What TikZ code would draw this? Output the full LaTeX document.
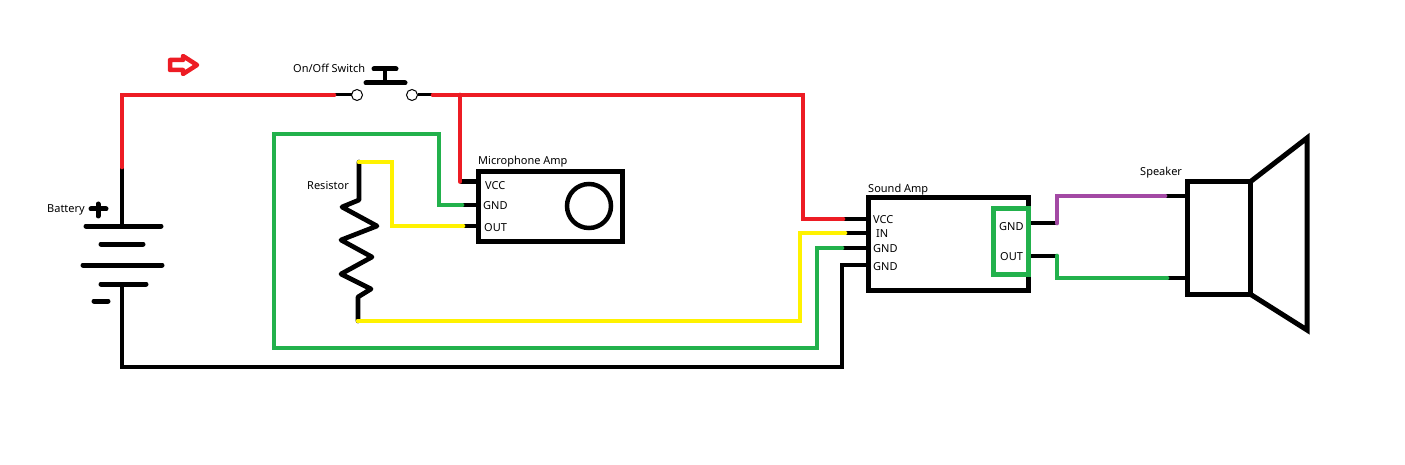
\documentclass[tikz,border=0pt]{standalone}
\usepackage{fontspec}
\setmainfont{Noto Sans}
\definecolor{wred}{HTML}{ED1C24}
\definecolor{wgreen}{HTML}{22B14C}
\definecolor{wyellow}{HTML}{FFF200}
\definecolor{wpurple}{HTML}{A349A4}
\tikzset{
  wire/.style={line width=4.7pt,line join=miter,line cap=round},
  stub/.style={line width=4.7pt},
  plate/.style={line width=5pt,line cap=round},
  modbox/.style={draw,line width=5pt,rectangle,inner sep=0pt,outer sep=0pt},
  contact/.style={draw,circle,line width=1pt,minimum size=11pt,inner sep=0pt,outer sep=0pt,fill=white},
  lbl/.style={anchor=west,inner sep=0pt,yshift=-1pt,font=\fontsize{11}{13}\selectfont}
}
\begin{document}
\begin{tikzpicture}[x=1pt,y=-1pt]
\useasboundingbox (0,0) rectangle (1405,465);

% pins and corners
\coordinate (battop) at (122,226);
\coordinate (batred) at (122,167);
\coordinate (batbot) at (122,284);
\coordinate (redleft) at (334,95);
\coordinate (redright) at (433,95);
\coordinate (redend) at (803,95);
\coordinate (redtap) at (460,95);
\coordinate (micvcc) at (460,181.5);
\coordinate (micgnd) at (462,205);
\coordinate (micout) at (463,226);
\coordinate (ampvcc) at (843,219);
\coordinate (ampin) at (845,233);
\coordinate (ampgnda) at (842,248);
\coordinate (ampgndb) at (842,265);
\coordinate (restop) at (359,162);
\coordinate (resbot) at (358,321);
\coordinate (outgnd) at (1057,223);
\coordinate (outout) at (1057,256);
\coordinate (spka) at (1165,196);
\coordinate (spkb) at (1167,278);

% boxes
\node[modbox,minimum width=144pt,minimum height=69pt] (micamp) at (550,206.5) {};
\node[modbox,minimum width=160pt,minimum height=92pt] (soundamp) at (948,244) {};
\node[modbox,minimum width=63pt,minimum height=112pt] (spkbox) at (1218.5,238) {};
\node[draw,circle,line width=4.5pt,minimum size=44pt,inner sep=0pt] (micround) at (589,206) {};

% switch
\node[contact] (swleft) at (357,95) {};
\node[contact] (swright) at (412,95) {};
\draw[line width=3pt] (redleft) -- (swleft);
\draw[line width=3pt] (swright) -- (redright);
\draw[plate] (366,83) -- (405,83);
\draw[plate] (374,69) -- (396,69);
\draw[line width=4pt] (385,69) -- (385,83);

% battery
\draw[plate] (86,226) -- (161,226);
\draw[plate] (101,244) -- (143,244);
\draw[plate] (83,265) -- (162,265);
\draw[plate] (101,284) -- (146,284);
\draw[plate] (91,209) -- (106,209);
\draw[plate] (98,204) -- (98,216);
\draw[plate] (94,301) -- (108,301);
\draw[stub] (batred) -- (battop);

% resistor
\draw[wire,line join=round] (restop) -- (359,200) -- (342,207) -- (377,226) -- (341,240) -- (372,257) -- (341,274) -- (371,289) -- (358,297) -- (resbot);

% stubs
\draw[stub] (micvcc) -- (micamp.west |- micvcc);
\draw[stub] (micgnd) -- (micamp.west |- micgnd);
\draw[stub] (micout) -- (micamp.west |- micout);
\draw[stub] (ampvcc) -- (soundamp.west |- ampvcc);
\draw[stub] (ampin) -- (soundamp.west |- ampin);
\draw[stub] (ampgnda) -- (soundamp.west |- ampgnda);
\draw[stub] (batbot) |- (842,367) -- (ampgndb) -- (soundamp.west |- ampgndb);
\draw[stub] (soundamp.east |- outgnd) -- (outgnd);
\draw[stub] (soundamp.east |- outout) -- (outout);
\draw[stub] (spka) -- (spkbox.west |- spka);
\draw[stub] (spkb) -- (1190,278);

% coloured wires
\draw[wire,wred] (batred) |- (redleft);
\draw[wire,wred] (redright) -- (redend) |- (ampvcc);
\draw[wire,wred] (redtap) -- (micvcc);
\draw[wire,wgreen] (micgnd) -| (439,134) -| (274,348) -| (817,248) -- (ampgnda);
\draw[wire,wyellow] (restop) -- (392,162) |- (micout);
\draw[wire,wyellow] (resbot) -| (800,233) -- (ampin);
\draw[wire,wpurple] (outgnd) |- (spka);
\draw[wire,wgreen] (outout) |- (spkb);
\node[draw=wgreen,line width=5pt,minimum width=35pt,minimum height=65pt,inner sep=0pt] (outbox) at (1010.5,241.5) {};

% speaker cone
\draw[line width=5pt,line join=miter] (spkbox.north east) -- (1307,138) -- (1307,330) -- (spkbox.south east);

% direction arrow
\draw[wred,line width=4.5pt,line join=round] (170,60) -- (183,60) -- (183,56) -- (197,65) -- (183,74) -- (183,70) -- (170,70) -- cycle;

% labels
\node[lbl] (lblswitch) at (293,67) {On/Off Switch};
\node[lbl] (lblbattery) at (47,209) {Battery};
\node[lbl] (lblres) at (307,185) {Resistor};
\node[lbl] (lblmic) at (478,161) {Microphone Amp};
\node[lbl] (lblmicvcc) at (485,185) {VCC};
\node[lbl] (lblmicgnd) at (483,205) {GND};
\node[lbl] (lblmicout) at (484,227) {OUT};
\node[lbl] (lblamp) at (868,189) {Sound Amp};
\node[lbl] (lblampvcc) at (873,219) {VCC};
\node[lbl] (lblampin) at (876,233) {IN};
\node[lbl] (lblampgnda) at (873,248) {GND};
\node[lbl] (lblampgndb) at (873,266) {GND};
\node[lbl] (lbloutgnd) at (999,226) {GND};
\node[lbl] (lbloutout) at (1000,256) {OUT};
\node[lbl] (lblspk) at (1140,172) {Speaker};
\end{tikzpicture}
\end{document}
